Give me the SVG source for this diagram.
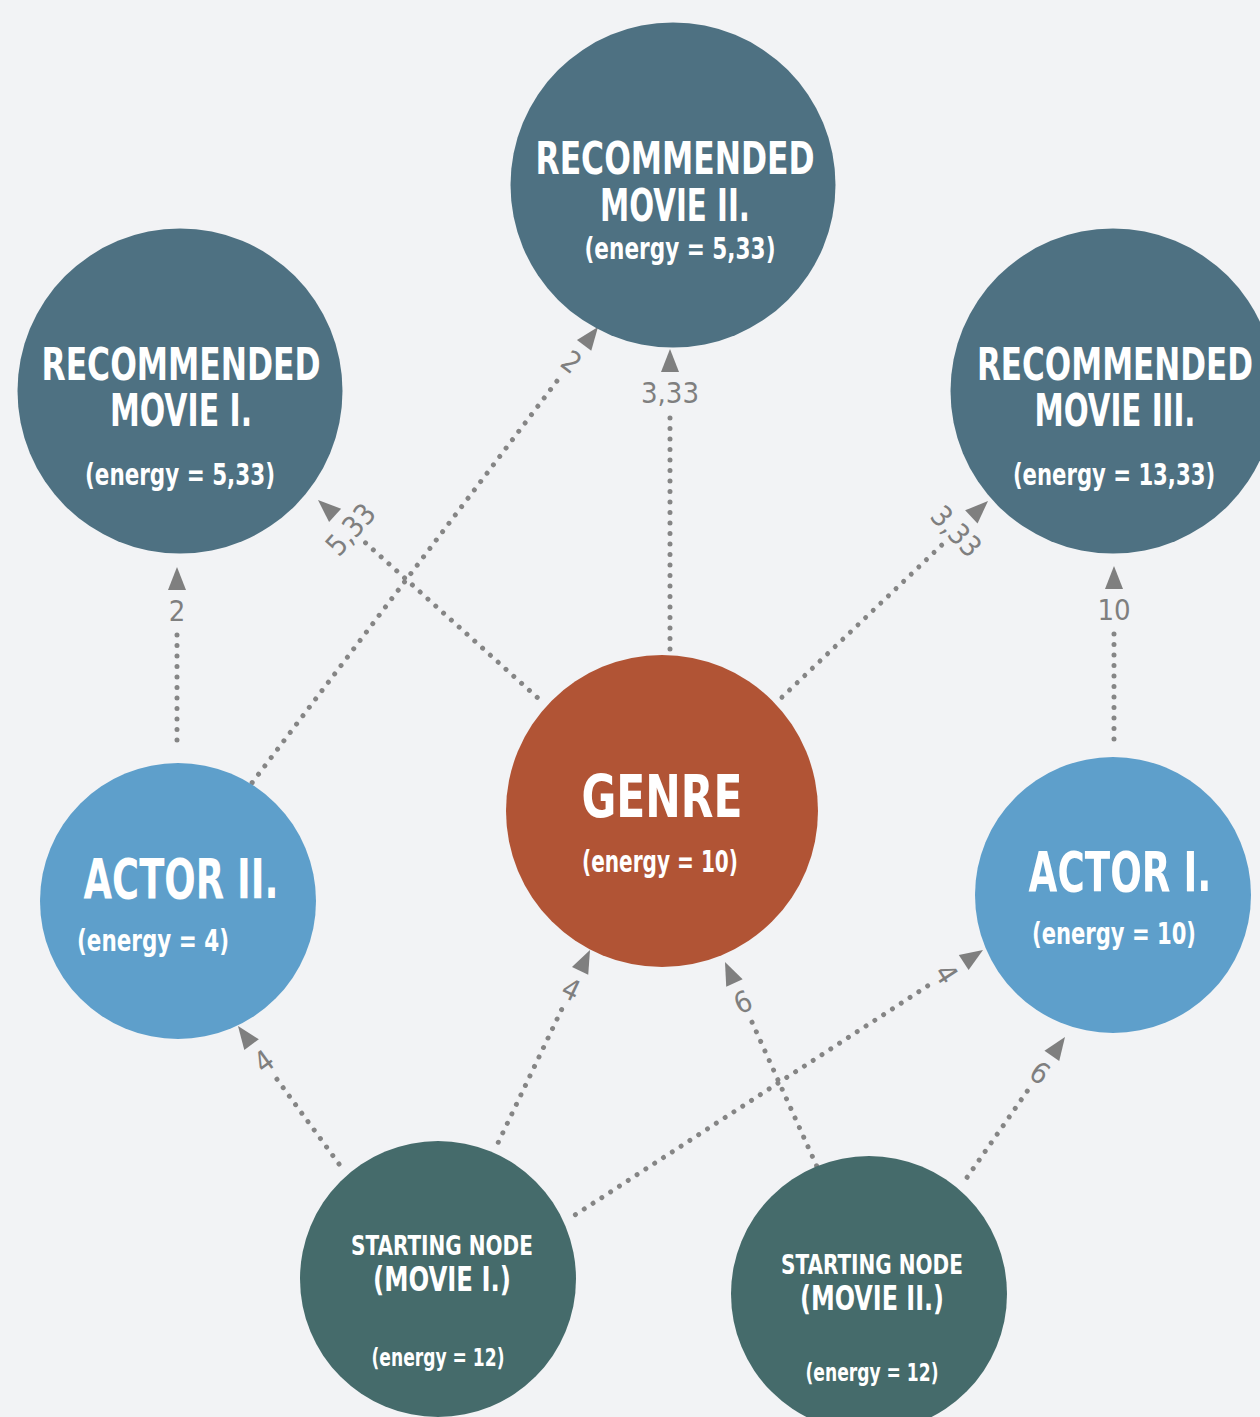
<svg xmlns="http://www.w3.org/2000/svg" width="1260" height="1417" viewBox="0 0 1260 1417">
<defs>
<style>
.t{font-family:"Liberation Sans Narrow","DejaVu Sans Condensed","Liberation Sans",sans-serif;font-weight:bold;fill:#ffffff;text-anchor:middle}
.lbl{font-family:"Liberation Sans Narrow","DejaVu Sans Condensed","Liberation Sans",sans-serif;font-size:29px;fill:#7f7f7f;text-anchor:middle}
.dot{stroke:#858585;stroke-width:5;stroke-linecap:round;stroke-dasharray:0 10.5;fill:none}
.ah{fill:#7f7f7f}
.rec{fill:#4e7182}
.gen{fill:#b15435}
.act{fill:#5e9fcb}
.start{fill:#456b6b}
</style>
<polygon id="head" points="0,0 -9,23 9,23"/>
</defs>
<rect width="1260" height="1417" fill="#f2f3f5"/>

<g id="connectors">
  <g transform="translate(177,567) rotate(0)"><use href="#head" class="ah"/><text class="lbl" x="0" y="54">2</text><line class="dot" x1="0" y1="68" x2="0" y2="183"/></g>
  <g transform="translate(598,327) rotate(37.2)"><use href="#head" class="ah"/><text class="lbl" x="0" y="54">2</text><line class="dot" x1="0" y1="68" x2="0" y2="575"/></g>
  <g transform="translate(318,500) rotate(-48)"><use href="#head" class="ah"/><text class="lbl" x="0" y="54">5,33</text><line class="dot" x1="0" y1="64" x2="0" y2="299"/></g>
  <g transform="translate(670,349) rotate(0)"><use href="#head" class="ah"/><text class="lbl" x="0" y="54">3,33</text><line class="dot" x1="0" y1="69" x2="0" y2="306"/></g>
  <g transform="translate(988,501) rotate(46.4)"><use href="#head" class="ah"/><text class="lbl" x="0" y="54">3,33</text><line class="dot" x1="0" y1="64" x2="0" y2="289"/></g>
  <g transform="translate(1114,566) rotate(0)"><use href="#head" class="ah"/><text class="lbl" x="0" y="54">10</text><line class="dot" x1="0" y1="68" x2="0" y2="179"/></g>
  <g transform="translate(238,1026) rotate(-36.2)"><use href="#head" class="ah"/><text class="lbl" x="0" y="54">4</text><line class="dot" x1="0" y1="66" x2="0" y2="176"/></g>
  <g transform="translate(590,950) rotate(25.5)"><use href="#head" class="ah"/><text class="lbl" x="0" y="54">4</text><line class="dot" x1="0" y1="66" x2="0" y2="214"/></g>
  <g transform="translate(983,950) rotate(57)"><use href="#head" class="ah"/><text class="lbl" x="0" y="54">4</text><line class="dot" x1="0" y1="66" x2="0" y2="490"/></g>
  <g transform="translate(725,962) rotate(-24.2)"><use href="#head" class="ah"/><text class="lbl" x="0" y="54">6</text><line class="dot" x1="0" y1="66" x2="0" y2="225"/></g>
  <g transform="translate(1065,1037) rotate(34.9)"><use href="#head" class="ah"/><text class="lbl" x="0" y="54">6</text><line class="dot" x1="0" y1="66" x2="0" y2="178"/></g>
</g>

<g id="rec-movie-2">
  <circle class="rec" cx="673" cy="185" r="162.5"/>
  <text class="t" x="675" y="174" font-size="44" textLength="279" lengthAdjust="spacingAndGlyphs">RECOMMENDED</text>
  <text class="t" x="675" y="221" font-size="44" textLength="150" lengthAdjust="spacingAndGlyphs">MOVIE II.</text>
  <text class="t" x="680" y="259" font-size="30" textLength="191" lengthAdjust="spacingAndGlyphs">(energy = 5,33)</text>
</g>
<g id="rec-movie-1">
  <circle class="rec" cx="180" cy="391" r="162.5"/>
  <text class="t" x="181" y="380" font-size="44" textLength="279" lengthAdjust="spacingAndGlyphs">RECOMMENDED</text>
  <text class="t" x="181" y="426" font-size="44" textLength="142" lengthAdjust="spacingAndGlyphs">MOVIE I.</text>
  <text class="t" x="180" y="485" font-size="30" textLength="190" lengthAdjust="spacingAndGlyphs">(energy = 5,33)</text>
</g>
<g id="rec-movie-3">
  <circle class="rec" cx="1113" cy="391" r="162.5"/>
  <text class="t" transform="translate(1115,380) scale(0.78,1)" x="0" y="0" font-size="44" textLength="354" lengthAdjust="spacingAndGlyphs">RECOMMENDED</text>
  <text class="t" x="1115" y="426" font-size="44" textLength="161" lengthAdjust="spacingAndGlyphs">MOVIE III.</text>
  <text class="t" transform="translate(1114,485) scale(0.73,1)" x="0" y="0" font-size="30" textLength="277" lengthAdjust="spacingAndGlyphs">(energy = 13,33)</text>
</g>
<g id="genre">
  <circle class="gen" cx="662" cy="811" r="156"/>
  <text class="t" x="662" y="817" font-size="58" textLength="161" lengthAdjust="spacingAndGlyphs">GENRE</text>
  <text class="t" x="660" y="872" font-size="30" textLength="156" lengthAdjust="spacingAndGlyphs">(energy = 10)</text>
</g>
<g id="actor-2">
  <circle class="act" cx="178" cy="901" r="138"/>
  <text class="t" x="181" y="898" font-size="56" textLength="195" lengthAdjust="spacingAndGlyphs">ACTOR II.</text>
  <text class="t" x="153" y="951" font-size="30" textLength="152" lengthAdjust="spacingAndGlyphs">(energy = 4)</text>
</g>
<g id="actor-1">
  <circle class="act" cx="1113" cy="895" r="138"/>
  <text class="t" transform="translate(1120,891) scale(0.74,1)" x="0" y="0" font-size="56" textLength="247" lengthAdjust="spacingAndGlyphs">ACTOR I.</text>
  <text class="t" x="1114" y="944" font-size="30" textLength="164" lengthAdjust="spacingAndGlyphs">(energy = 10)</text>
</g>
<g id="start-movie-1">
  <circle class="start" cx="438" cy="1279" r="138"/>
  <text class="t" x="442" y="1255" font-size="26" textLength="182" lengthAdjust="spacingAndGlyphs">STARTING NODE</text>
  <text class="t" x="442" y="1291" font-size="34" textLength="138" lengthAdjust="spacingAndGlyphs">(MOVIE I.)</text>
  <text class="t" x="438" y="1366" font-size="25" textLength="133" lengthAdjust="spacingAndGlyphs">(energy = 12)</text>
</g>
<g id="start-movie-2">
  <circle class="start" cx="869" cy="1294" r="138"/>
  <text class="t" x="872" y="1274" font-size="26" textLength="182" lengthAdjust="spacingAndGlyphs">STARTING NODE</text>
  <text class="t" x="872" y="1310" font-size="34" textLength="144" lengthAdjust="spacingAndGlyphs">(MOVIE II.)</text>
  <text class="t" x="872" y="1381" font-size="25" textLength="133" lengthAdjust="spacingAndGlyphs">(energy = 12)</text>
</g>
</svg>
